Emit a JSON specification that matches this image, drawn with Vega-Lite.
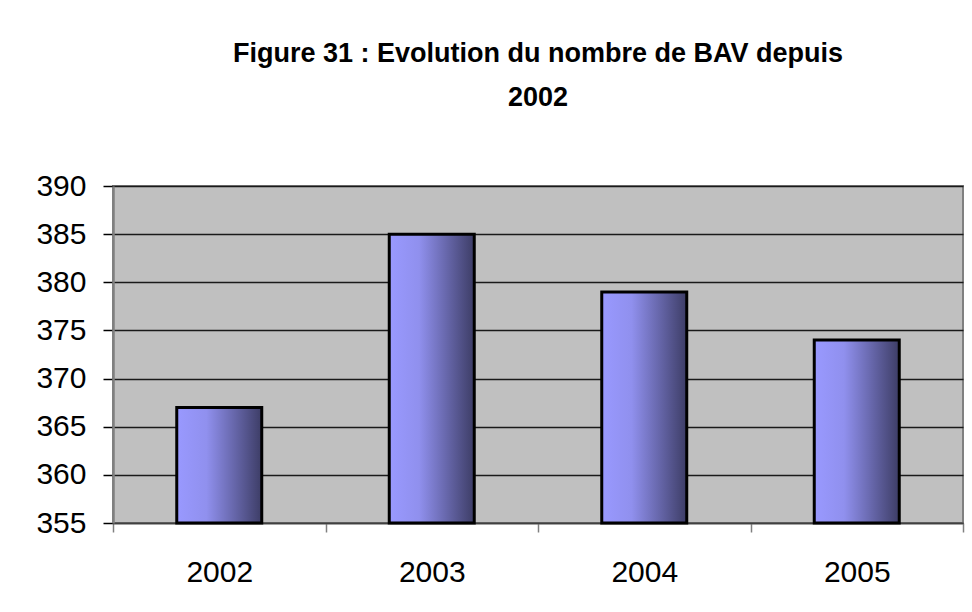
{
  "$schema": "https://vega.github.io/schema/vega-lite/v6.json",
  "autosize": {"type": "none"},
  "padding": {"left": 113, "top": 186, "right": 9, "bottom": 89},
  "width": 850,
  "height": 337,
  "background": "white",
  "title": {
    "text": ["Figure 31 : Evolution du nombre de BAV depuis", "2002"],
    "font": "Liberation Sans, Arial, sans-serif",
    "fontSize": 27,
    "fontWeight": "bold",
    "color": "black",
    "lineHeight": 44,
    "anchor": "middle",
    "offset": 59
  },
  "data": {
    "values": [
      {"year": "2002", "value": 367},
      {"year": "2003", "value": 385},
      {"year": "2004", "value": 379},
      {"year": "2005", "value": 374}
    ]
  },
  "mark": {
    "type": "bar",
    "width": {"band": 0.4},
    "stroke": "black",
    "strokeWidth": 3,
    "color": {
      "gradient": "linear",
      "x1": 0, "x2": 1, "y1": 0, "y2": 0,
      "stops": [
        {"offset": 0, "color": "#9999FF"},
        {"offset": 0.35, "color": "#9090EE"},
        {"offset": 0.65, "color": "#6A6AB0"},
        {"offset": 1, "color": "#3D3D66"}
      ]
    }
  },
  "encoding": {
    "x": {
      "field": "year",
      "type": "nominal",
      "scale": {"paddingInner": 0, "paddingOuter": 0},
      "axis": {
        "title": null,
        "labelAngle": 0,
        "labelFont": "Liberation Sans, Arial, sans-serif",
        "labelFontSize": 30,
        "labelColor": "black",
        "labelPadding": 25,
        "tickBand": "extent",
        "tickSize": 9,
        "tickColor": "#808080",
        "tickWidth": 1.5,
        "domainColor": "#404040",
        "domainWidth": 1.5,
        "grid": false
      }
    },
    "y": {
      "field": "value",
      "type": "quantitative",
      "scale": {"domain": [355, 390], "zero": false, "nice": false},
      "axis": {
        "title": null,
        "values": [355, 360, 365, 370, 375, 380, 385, 390],
        "labelFont": "Liberation Sans, Arial, sans-serif",
        "labelFontSize": 30,
        "labelColor": "black",
        "labelPadding": 17,
        "tickSize": 10,
        "tickColor": "black",
        "tickWidth": 1.5,
        "domainColor": "#808080",
        "domainWidth": 2.5,
        "grid": true,
        "gridColor": "#1a1a1a",
        "gridWidth": 1.5
      }
    },
    "y2": {"datum": 355}
  },
  "config": {
    "view": {"fill": "#C0C0C0", "stroke": "#808080", "strokeWidth": 2}
  }
}
